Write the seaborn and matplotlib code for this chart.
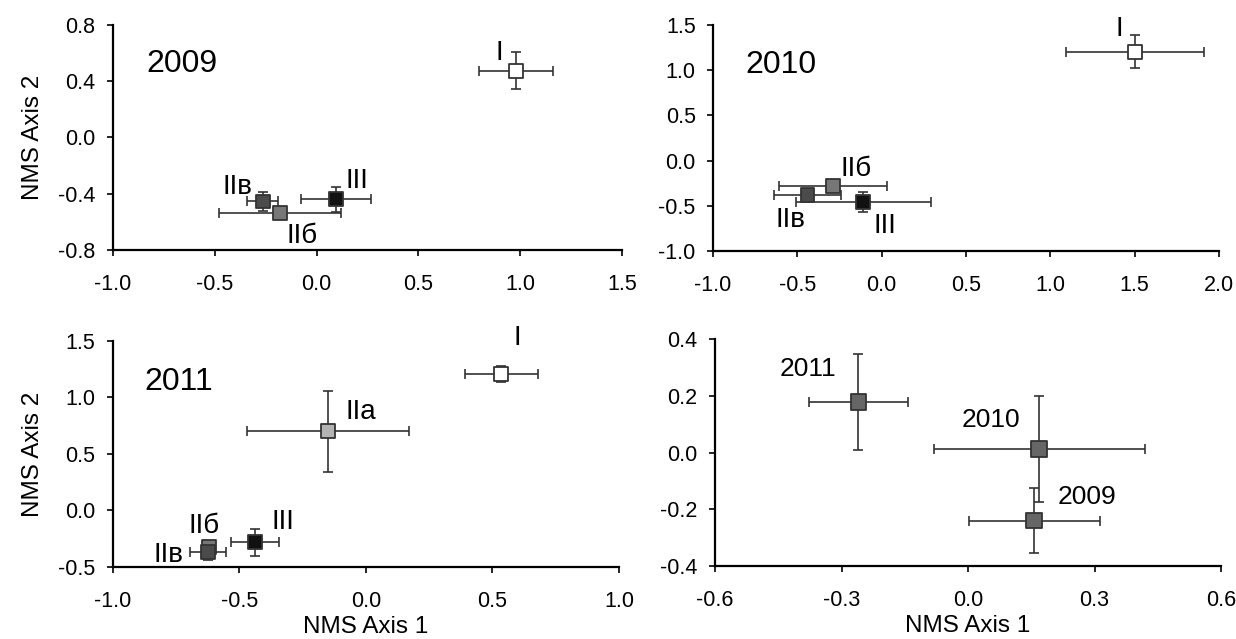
import pandas as pd
import seaborn as sns
import matplotlib
matplotlib.use("Agg")
import matplotlib.pyplot as plt
import numpy as np

sns.set_style("ticks")
plt.rcParams['font.family'] = ['Liberation Sans', 'DejaVu Sans']
plt.rcParams['axes.unicode_minus'] = False
plt.rcParams['text.color'] = 'black'
plt.rcParams['axes.labelcolor'] = 'black'

# --- data ---
groups_a = ['I', 'IIб', 'IIв', 'III']
x_2009 = [0.98, -0.18, -0.265, 0.095]
y_2009 = [0.475, -0.54, -0.455, -0.44]
xerr_2009 = [0.18, 0.30, 0.077, 0.17]
yerr_2009 = [0.13, 0.02, 0.07, 0.09]

x_2010 = [1.50, -0.29, -0.44, -0.11]
y_2010 = [1.205, -0.28, -0.385, -0.46]
xerr_2010 = [0.41, 0.32, 0.20, 0.40]
yerr_2010 = [0.18, 0.03, 0.05, 0.11]

groups_b = ['I', 'IIа', 'IIб', 'IIв', 'III']
x_2011 = [0.535, -0.15, -0.62, -0.625, -0.44]
y_2011 = [1.21, 0.70, -0.325, -0.37, -0.28]
xerr_2011 = [0.143, 0.32, 0.02, 0.07, 0.095]
yerr_2011 = [0.07, 0.36, 0.04, 0.07, 0.12]

years = ['2009', '2010', '2011']
x_years = [0.157, 0.169, -0.26]
y_years = [-0.24, 0.013, 0.179]
xerr_years = [0.155, 0.25, 0.118]
yerr_years = [0.114, 0.187, 0.17]

palette = {'I': '#ffffff', 'IIа': '#b3b3b3', 'IIб': '#777777',
           'IIв': '#4b4b4b', 'III': '#111111',
           '2009': '#666666', '2010': '#666666', '2011': '#666666'}


def draw(ax, names, xs, ys, xe, ye, msize):
    df = pd.DataFrame({'x': xs, 'y': ys, 'g': names})
    ax.errorbar(xs, ys, xerr=xe, yerr=ye, fmt='none', ecolor='#333333',
                elinewidth=1.2, capsize=3.5, capthick=1.2, zorder=2)
    sns.scatterplot(data=df, x='x', y='y', hue='g', palette=palette,
                    marker='s', s=msize, edgecolor='#333333', linewidth=1.3,
                    legend=False, zorder=3, ax=ax)
    ax.set_xlabel('')
    ax.set_ylabel('')
    for s in ['top', 'right']:
        ax.spines[s].set_visible(False)
    for s in ['left', 'bottom']:
        ax.spines[s].set_linewidth(1.6)
        ax.spines[s].set_color('black')
    ax.tick_params(direction='out', length=4.5, width=1.2, labelsize=15.5,
                   colors='black')
    ax.tick_params(axis='x', pad=13)
    ax.tick_params(axis='y', pad=8)


fig = plt.figure(figsize=(12.36, 6.39), dpi=100)
ax1 = fig.add_axes([0.0914, 0.6088, 0.4118, 0.3521])
ax2 = fig.add_axes([0.5769, 0.6072, 0.4094, 0.3537])
ax3 = fig.add_axes([0.0914, 0.1127, 0.4094, 0.3537])
ax4 = fig.add_axes([0.5785, 0.1142, 0.4094, 0.3552])

draw(ax1, groups_a, x_2009, y_2009, xerr_2009, yerr_2009, 100)
ax1.set_xlim(-1.0, 1.5)
ax1.set_ylim(-0.8, 0.8)
ax1.set_xticks(np.arange(-1.0, 1.51, 0.5))
ax1.set_yticks(np.arange(-0.8, 0.81, 0.4))
ax1.xaxis.set_major_formatter('{x:.1f}')
ax1.yaxis.set_major_formatter('{x:.1f}')
ax1.set_ylabel('NMS Axis 2', fontsize=17.5, labelpad=10)
ax1.text(-0.66, 0.52, '2009', fontsize=23, ha='center', va='center')
for t, (tx, ty) in {'I': (0.9, 0.6), 'III': (0.2, -0.31),
                    'IIв': (-0.39, -0.35), 'IIб': (-0.07, -0.7)}.items():
    ax1.text(tx, ty, t, fontsize=20, ha='center', va='center')

draw(ax2, groups_a, x_2010, y_2010, xerr_2010, yerr_2010, 100)
ax2.set_xlim(-1.0, 2.0)
ax2.set_ylim(-1.0, 1.5)
ax2.set_xticks(np.arange(-1.0, 2.01, 0.5))
ax2.set_yticks(np.arange(-1.0, 1.51, 0.5))
ax2.xaxis.set_major_formatter('{x:.1f}')
ax2.yaxis.set_major_formatter('{x:.1f}')
ax2.text(-0.6, 1.06, '2010', fontsize=23, ha='center', va='center')
for t, (tx, ty) in {'I': (1.41, 1.46), 'IIб': (-0.15, -0.09),
                    'IIв': (-0.54, -0.66), 'III': (0.02, -0.72)}.items():
    ax2.text(tx, ty, t, fontsize=20, ha='center', va='center')

draw(ax3, groups_b, x_2011, y_2011, xerr_2011, yerr_2011, 100)
ax3.set_xlim(-1.0, 1.0)
ax3.set_ylim(-0.5, 1.5)
ax3.set_xticks(np.arange(-1.0, 1.01, 0.5))
ax3.set_yticks(np.arange(-0.5, 1.51, 0.5))
ax3.xaxis.set_major_formatter('{x:.1f}')
ax3.yaxis.set_major_formatter('{x:.1f}')
ax3.set_ylabel('NMS Axis 2', fontsize=17.5, labelpad=10)
ax3.set_xlabel('NMS Axis 1', fontsize=17.5, labelpad=3)
ax3.text(-0.74, 1.14, '2011', fontsize=23, ha='center', va='center')
for t, (tx, ty) in {'I': (0.6, 1.53), 'IIа': (-0.02, 0.87),
                    'III': (-0.33, -0.1), 'IIб': (-0.64, -0.14),
                    'IIв': (-0.78, -0.39)}.items():
    ax3.text(tx, ty, t, fontsize=20, ha='center', va='center')

draw(ax4, years, x_years, y_years, xerr_years, yerr_years, 128)
ax4.set_xlim(-0.6, 0.6)
ax4.set_ylim(-0.4, 0.4)
ax4.set_xticks(np.arange(-0.6, 0.61, 0.3))
ax4.set_yticks(np.arange(-0.4, 0.41, 0.2))
ax4.xaxis.set_major_formatter('{x:.1f}')
ax4.yaxis.set_major_formatter('{x:.1f}')
ax4.set_xlabel('NMS Axis 1', fontsize=17.5, labelpad=3)
for t, (tx, ty) in {'2011': (-0.38, 0.293), '2010': (0.054, 0.114),
                    '2009': (0.283, -0.155)}.items():
    ax4.text(tx, ty, t, fontsize=19, ha='center', va='center')

fig.savefig('out.png', dpi=100)
